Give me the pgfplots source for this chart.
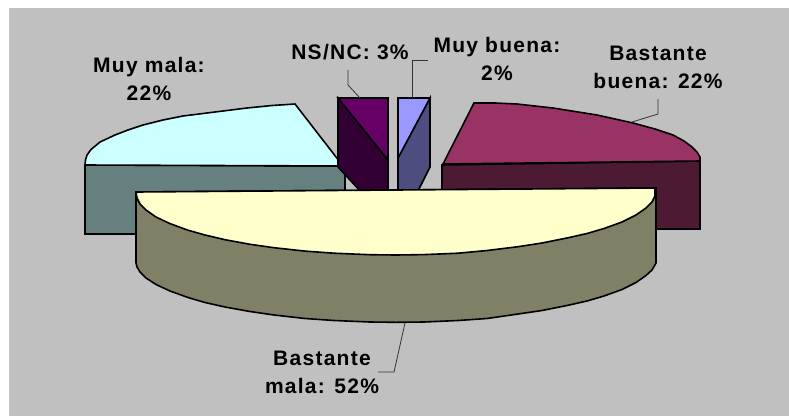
\documentclass[border=0pt]{standalone}
\usepackage{fontspec}
\setmainfont[LetterSpace=6]{Liberation Sans}
\usepackage{pgfplots}
\pgfplotsset{compat=1.18}
\definecolor{bgc}{HTML}{C0C0C0}
\definecolor{ytop}{HTML}{FFFFCC}
\definecolor{yside}{HTML}{808066}
\definecolor{ctop}{HTML}{CCFFFF}
\definecolor{cside}{HTML}{668080}
\definecolor{mtop}{HTML}{993366}
\definecolor{mside}{HTML}{4D1A33}
\definecolor{ptop}{HTML}{660066}
\definecolor{pside}{HTML}{330033}
\definecolor{btop}{HTML}{9999FF}
\definecolor{bside}{HTML}{4D4D80}
\begin{document}
\begin{tikzpicture}
\begin{axis}[width=789pt,height=416pt,scale only axis,xmin=0,xmax=789,ymin=0,ymax=416,y dir=reverse,axis lines=none,clip=false,
  slice/.style={draw=black,line width=1.6pt,line join=miter},
  lead/.style={draw=black!80,line width=0.8pt,no marks}]
\addplot[fill=white,draw=none,forget plot] coordinates {(0,0)(789,0)(789,416)(0,416)};
\addplot[fill=bgc,draw=none,forget plot] coordinates {(9,8)(789,8)(789,416)(9,416)};
% Muy mala
\addplot[slice,fill=cside] coordinates {(85,165)(345,166)(345,234)(85,234)} --cycle;
\addplot[slice,fill=ctop] coordinates {(85,165)(85.5,160)(87,155)(91,149.5)(100,142)(115,135)(128,130)(143,125)(163,120)(183,116)(215,112)(247,108)(272,105.5)(295,104)(343,166)} --cycle;
% Bastante buena
\addplot[slice,fill=mside] coordinates {(442,165)(700,161)(700,229)(442,229)} --cycle;
\addplot[slice,fill=mtop] coordinates {(443,164)(474,103)(495,103)(517,104)(553,108)(597,115)(633,123)(655,129)(673,135)(684,141)(692,147)(697,152)(700,157)(700,161)} --cycle;
% NS/NC
\addplot[slice,fill=pside] coordinates {(338,98)(388,160)(388,193)(362,193)(338,167)} --cycle;
\addplot[slice,fill=ptop] coordinates {(338,98)(388,98)(388,160)} --cycle;
% Muy buena
\addplot[slice,fill=bside] coordinates {(430,98)(430,167)(417,193)(398,193)(398,158)} --cycle;
\addplot[slice,fill=btop] coordinates {(398,98)(430,98)(398,158)} --cycle;
% Bastante mala
\addplot[slice,fill=yside] coordinates {(136,192)(136,263)(137,267)(140,272)(146,278)(156,284.5)(170,291)(188,297.5)(205,302.5)(225,307)(250,311.5)(274,315)(305,318.5)(334,320.5)(370,322)(396,322.3)(424,322)(458,320.5)(487,318.5)(518,314)(542,310.5)(567,305.5)(587,301)(604,296)(622,289.5)(636,282.5)(646,275.5)(652,270)(656,263)(656,188)} --cycle;
\addplot[slice,fill=ytop] coordinates {(136,192)(137,198)(140,204)(146,210)(156,217)(170,223.6)(188,230.2)(205,235)(225,239.7)(250,244.3)(274,247.7)(305,251.1)(334,253.2)(370,254.7)(396,255)(424,254.6)(458,253.2)(487,250.5)(518,246.7)(542,243)(567,238)(587,233.5)(604,228.5)(622,222)(636,215)(646,208)(652,202)(655,196)(655,188)} --cycle;
% leaders
\addplot[lead] coordinates {(348,70)(348,85)(360,98)};
\addplot[lead] coordinates {(428,60)(412,60)(412,98)};
\addplot[lead] coordinates {(658,99)(658,114)(632,122)};
\addplot[lead] coordinates {(405,323)(394,372)(378,372)};
% labels
\tikzset{lab/.style={font=\fontsize{21}{28}\selectfont\bfseries,align=center,inner sep=0pt,text=black}}
\node[lab] at (axis cs:149,79) {Muy mala:\\22\%};
\node[lab] at (axis cs:350,52) {NS/NC: 3\%};
\node[lab] at (axis cs:497,59) {Muy buena:\\2\%};
\node[lab] at (axis cs:658,67) {Bastante\\buena: 22\%};
\node[lab] at (axis cs:322,372) {Bastante\\mala: 52\%};
\end{axis}
\end{tikzpicture}
\end{document}
